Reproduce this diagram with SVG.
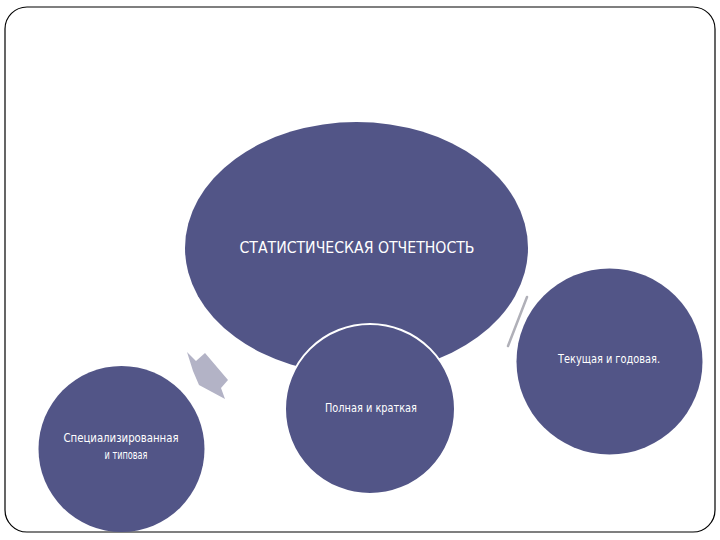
<svg xmlns="http://www.w3.org/2000/svg" width="720" height="540" viewBox="0 0 720 540">
  <style>
    .node { fill: #525587; }
    .lbl { fill: #ffffff; font-family: "Liberation Sans Narrow", "DejaVu Sans Condensed", "Liberation Sans", sans-serif; text-anchor: middle; }
    .frame { fill: #ffffff; stroke: #000000; stroke-width: 1.2; }
    .conn { fill: #b3b3c6; }
  </style>
  <rect x="0" y="0" width="720" height="540" fill="#ffffff"/>
  <rect class="frame" x="5" y="7" width="710" height="525" rx="22" ry="22"/>

  <g id="connectors">
    <polygon class="conn" points="187,352 196,361 205,353 228,380 221,388 225,399 199,385 193,371"/>
    <line x1="527" y1="297" x2="508" y2="346" stroke="#b0b0b8" stroke-width="2.5" stroke-linecap="round"/>
  </g>

  <g id="node-main">
    <ellipse class="node" cx="356.5" cy="248" rx="171.5" ry="126"/>
    <text class="lbl" x="357" y="253" font-size="15.5" textLength="235" lengthAdjust="spacingAndGlyphs">СТАТИСТИЧЕСКАЯ ОТЧЕТНОСТЬ</text>
  </g>

  <g id="node-full">
    <circle class="node" cx="370" cy="409" r="85" stroke="#ffffff" stroke-width="2"/>
    <text class="lbl" x="371" y="412" font-size="12" textLength="92" lengthAdjust="spacingAndGlyphs">Полная и краткая</text>
  </g>

  <g id="node-current">
    <circle class="node" cx="609.5" cy="361.5" r="93"/>
    <text class="lbl" x="609" y="363" font-size="12" textLength="102" lengthAdjust="spacingAndGlyphs">Текущая и годовая.</text>
  </g>

  <g id="node-special">
    <circle class="node" cx="121.5" cy="449" r="83"/>
    <text class="lbl" x="121" y="442" font-size="12" textLength="115" lengthAdjust="spacingAndGlyphs">Специализированная</text>
    <text class="lbl" x="126" y="459" font-size="12" textLength="43" lengthAdjust="spacingAndGlyphs">и типовая</text>
  </g>
</svg>
